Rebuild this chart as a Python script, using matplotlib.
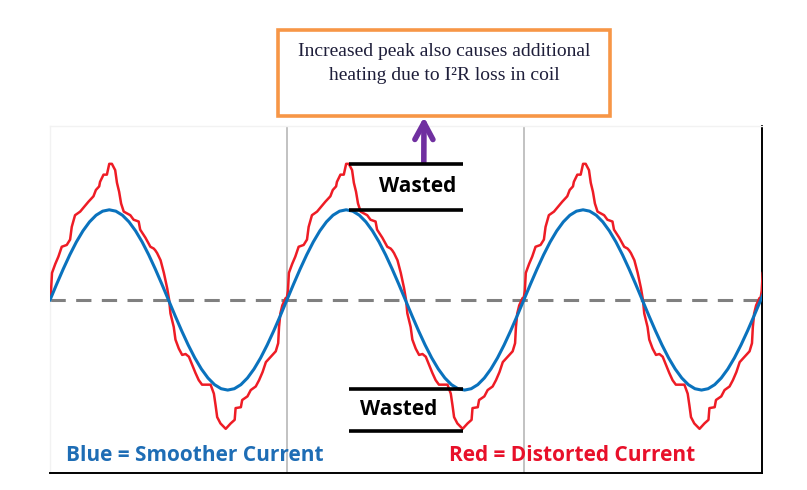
import numpy as np
import matplotlib
matplotlib.use("Agg")
import matplotlib.pyplot as plt
from matplotlib.patches import Rectangle

# one period of the smooth (blue) current, sampled every 10 degrees
blue_deg = list(range(0, 361, 10))
blue_val = [0.000, 0.174, 0.342, 0.500, 0.643, 0.766, 0.866, 0.940, 0.985, 1.000,
            0.985, 0.940, 0.866, 0.766, 0.643, 0.500, 0.342, 0.174, 0.000,
            -0.174, -0.342, -0.500, -0.643, -0.766, -0.866, -0.940, -0.985, -1.000,
            -0.985, -0.940, -0.866, -0.766, -0.643, -0.500, -0.342, -0.174, 0.000]

# one period of the distorted (red) current
red_deg = [0, 1.5, 3, 8, 12.7, 17.8, 25.4, 30.5, 33, 38, 45.8, 58.4, 63.6, 66, 69.7,
           74.7, 76, 81.3, 86.4, 90, 94, 99, 101.7, 105, 108, 112, 117, 122, 127,
           134.7, 137, 145, 152.5, 157.6, 160, 162.7, 168, 173, 178, 181, 183, 188,
           190.6, 195.7, 200.8, 206, 211, 216, 221, 226, 231, 239, 244, 249, 251.6,
           254, 259, 267, 274.5, 280.6, 282, 290, 292, 300, 305, 312.6, 317.7, 323,
           328, 335.5, 343, 346.7, 348, 350, 353, 358]
red_val = [0.03, 0.10, 0.30, 0.40, 0.48, 0.59, 0.61, 0.67, 0.81, 0.94, 0.98, 1.09, 1.13,
           1.15, 1.22, 1.26, 1.31, 1.39, 1.39, 1.51, 1.51, 1.44, 1.30, 1.20, 1.07, 0.98,
           0.96, 0.94, 0.89, 0.87, 0.78, 0.69, 0.59, 0.57, 0.55, 0.52, 0.44, 0.30, 0.13,
           0.00, -0.15, -0.30, -0.44, -0.54, -0.61, -0.60, -0.63, -0.72, -0.81, -0.89,
           -0.94, -0.94, -0.94, -1.04, -1.17, -1.30, -1.37, -1.43, -1.37, -1.33, -1.20,
           -1.19, -1.11, -1.07, -1.00, -0.96, -0.89, -0.80, -0.69, -0.63, -0.57, -0.48,
           -0.30, -0.15, -0.06, 0.02]

n_periods = 4
period_lines = [360, 720]

# "wasted" bands: (x from, x to, level a, level b)
wasted_top = (455, 628, 1.51, 1.00)
wasted_bot = (455, 628, -0.99, -1.45)

box_lines = ["Increased peak also causes additional", "heating due to I\u00b2R loss in coil"]
blue_label = "Blue = Smoother Current"
red_label = "Red = Distorted Current"

BLUE = "#0a72bd"
RED = "#ee1c25"
PURPLE = "#7030a0"
ORANGE = "#f79646"

fig = plt.figure(figsize=(8.07, 4.90), dpi=100)
ax = fig.add_axes([0.062, 0.0347, 0.8823, 0.7082])

bx = np.concatenate([np.array(blue_deg) + 360 * k for k in range(n_periods)])
by = np.tile(blue_val, n_periods)
rx = np.concatenate([np.array(red_deg) + 360 * k for k in range(n_periods)])
ry = np.tile(red_val, n_periods)

for xv in period_lines:
    ax.axvline(xv, color="#bdbdbd", lw=1.3, zorder=1)
ax.axhline(0, color="#808080", lw=2.2, dashes=(5, 3.4), zorder=2)
ax.plot(rx, ry, color=RED, lw=1.8, zorder=3)
ax.plot(bx, by, color=BLUE, lw=2.2, zorder=4)

for x0, x1, a, b in (wasted_top, wasted_bot):
    ax.hlines([a, b], x0, x1, color="black", lw=2.6, zorder=5)
ax.text(559, (wasted_top[2] + wasted_top[3]) / 2, "Wasted", ha="center", va="center",
        fontsize=15, fontweight="bold", family="Open Sans", color="black")
ax.text(529, (wasted_bot[2] + wasted_bot[3]) / 2, "Wasted", ha="center", va="center",
        fontsize=15, fontweight="bold", family="Open Sans", color="black")

ax.text(220, -1.73, blue_label, ha="center", va="center", fontsize=15,
        fontweight="bold", family="Open Sans", color="#1e6db5")
ax.text(793, -1.73, red_label, ha="center", va="center", fontsize=15,
        fontweight="bold", family="Open Sans", color="#e8102a")

ax.set_xlim(0, 1082)
ax.set_ylim(-1.92, 1.93)
ax.set_xticks([])
ax.set_yticks([])
for side in ("left", "top"):
    ax.spines[side].set_color("#f2f2f2")
    ax.spines[side].set_linewidth(1)
for side in ("right", "bottom"):
    ax.spines[side].set_color("black")
    ax.spines[side].set_linewidth(1.4)

# annotation box above the plot
fig.patches.append(Rectangle((278 / 807, 1 - 116 / 490), 332 / 807, 86 / 490,
                             transform=fig.transFigure, fill=False,
                             edgecolor=ORANGE, lw=2.6))
fig.text(444 / 807, 1 - 52 / 490, box_lines[0], ha="center", va="center",
         fontsize=14, family="Liberation Serif", color="#1e1e3a")
fig.text(444 / 807, 1 - 76 / 490, box_lines[1], ha="center", va="center",
         fontsize=14, family="Liberation Serif", color="#1e1e3a")

ax.annotate("", xy=(424 / 807, 1 - 117 / 490), xycoords="figure fraction",
            xytext=(568, 1.53), textcoords="data",
            arrowprops=dict(arrowstyle="->,head_length=1.2,head_width=0.65",
                            color=PURPLE, lw=4, shrinkA=0, shrinkB=0))

plt.savefig("out.png", dpi=100)
